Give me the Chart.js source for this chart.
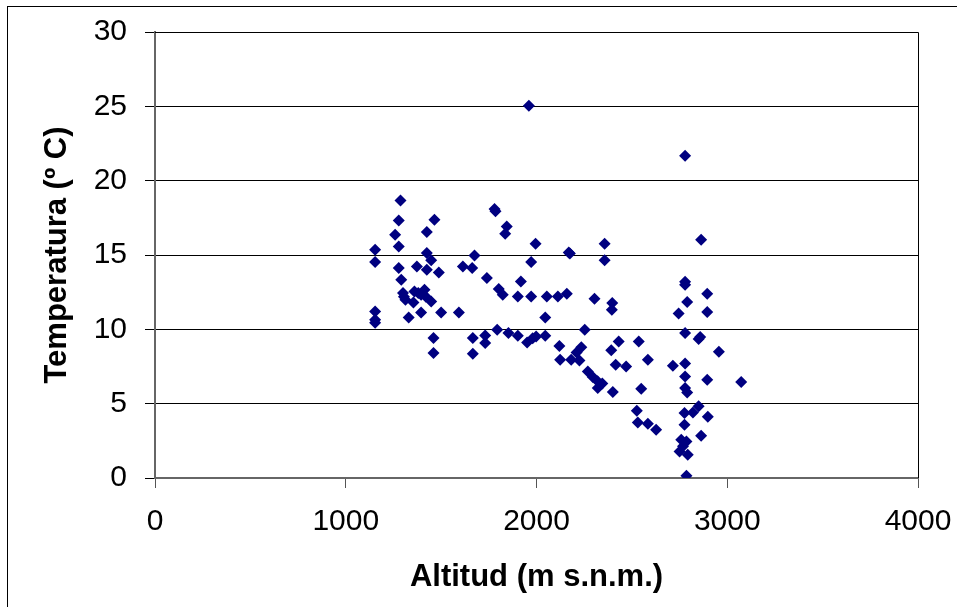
<!DOCTYPE html>
<html>
<head>
<meta charset="utf-8">
<script src="https://cdn.jsdelivr.net/npm/chart.js@4/dist/chart.umd.min.js"></script>
<style>
  html, body { margin: 0; padding: 0; background: #fff; }
  #wrap { position: relative; width: 957px; height: 607px; }
  #frame { position: absolute; left: 7px; top: 6px; width: 960px; height: 610px; border: 1px solid #000; box-sizing: border-box; pointer-events: none; }
</style>
</head>
<body>
<div id="wrap">
  <canvas id="chart" width="957" height="607"></canvas>
  <div id="frame"></div>
</div>
<script>
// altitude (m a.s.l.) and temperature (ºC)
const altitud = [
  1154, 1154, 1154, 1154, 1154,
  1287, 1278, 1259, 1278, 1278, 1291, 1300, 1313, 1330, 1305,
  1465, 1425, 1425, 1448, 1373, 1425, 1488, 1360, 1413, 1395, 1355, 1448, 1395, 1500, 1460, 1460, 1380, 1420,
  1593, 1614, 1675, 1663, 1740, 1666, 1666, 1731, 1731,
  1780, 1785, 1844, 1836, 1995, 1972, 1802, 1823, 1918, 1902, 1972, 1960, 1794, 1853, 1902, 1951, 1998, 1980,
  2046, 2054, 2112, 2159, 2169, 2175, 2046, 2120, 2124, 2182, 2210, 2225, 2235, 2253, 2304,
  2269, 2295, 2320, 2345, 2321, 2400, 2357, 2357, 2397, 2395, 2392, 2431, 2415, 2470,
  2536, 2549, 2584, 2526, 2531, 2584, 2627,
  2715, 2745, 2779, 2863, 2779, 2779, 2790, 2895, 2895, 2779, 2858, 2850, 2956, 2779, 2779, 2895, 3073,
  2779, 2790, 2850, 2820, 2776, 2898, 2776, 2863, 2759, 2786, 2768, 2750, 2793, 2786
];
const temperatura = [
  15.35, 14.53, 11.2, 10.65, 10.45,
  18.67, 17.32, 16.36, 15.57, 14.12, 13.34, 12.44, 11.99, 10.8, 12.2,
  17.37, 16.54, 15.13, 14.64, 14.23, 14.0, 13.83, 12.55, 12.66, 12.33, 11.81, 11.88, 11.14, 11.14, 9.41, 8.41, 12.45, 12.2,
  11.14, 14.23, 14.97, 14.12, 13.45, 9.41, 8.36, 9.59, 9.08,
  18.09, 17.95, 16.92, 16.43, 15.76, 14.53, 12.71, 12.33, 13.22, 12.21, 12.21, 25.04, 9.97, 9.75, 9.57, 9.12, 9.52, 9.4,
  10.8, 12.21, 12.21, 12.39, 15.17, 15.1, 9.57, 8.88, 7.96, 7.96, 8.45, 7.9, 8.8, 9.97, 12.06,
  7.17, 6.8, 6.5, 6.35, 6.05, 5.78, 15.76, 14.64, 11.77, 11.32, 8.6, 9.19, 7.62, 7.5,
  9.19, 6.0, 7.96, 4.53, 3.74, 3.65, 3.25,
  7.55, 11.07, 21.67, 16.03, 13.2, 13.0, 11.84, 12.39, 11.16, 9.75, 9.48, 9.35, 8.5, 7.7, 6.83, 6.61, 6.46,
  6.05, 5.75, 4.82, 4.4, 4.37, 4.12, 3.58, 2.84, 2.58, 2.46, 2.13, 1.79, 1.57, 0.15
];
const xTicks = [0, 1000, 2000, 3000, 4000];
const yTicks = [0, 5, 10, 15, 20, 25, 30];

const puntos = altitud.map((a, i) => ({ x: a, y: temperatura[i] }));

// plot area frame (top and right edges)
const framePlugin = {
  id: 'plotFrame',
  afterDraw(chart) {
    const { ctx, chartArea: a } = chart;
    ctx.save();
    ctx.strokeStyle = '#000';
    ctx.lineWidth = 1;
    ctx.beginPath();
    ctx.moveTo(a.left, a.top + 0.5);
    ctx.lineTo(a.right + 0.5, a.top + 0.5);
    ctx.lineTo(a.right + 0.5, a.bottom);
    ctx.stroke();
    ctx.restore();
  }
};

const family = 'Liberation Sans, Arial, sans-serif';
const tickFont = { family: family, size: 30 };
const titleFont = { family: family, size: 31, weight: 'bold' };

new Chart(document.getElementById('chart').getContext('2d'), {
  type: 'scatter',
  data: {
    datasets: [{
      data: puntos,
      pointStyle: 'rectRot',
      pointRadius: 6,
      backgroundColor: '#000080',
      borderColor: '#000080',
      borderWidth: 0
    }]
  },
  options: {
    responsive: false,
    animation: false,
    layout: { padding: { left: 0, top: 32, right: 39, bottom: 0 } },
    plugins: { legend: { display: false }, tooltip: { enabled: false } },
    scales: {
      x: {
        type: 'linear',
        min: 0,
        max: 4000,
        afterBuildTicks: s => { s.ticks = xTicks.map(v => ({ value: v })); },
        afterFit: s => { s.height = 129; s.paddingLeft = 0; s.paddingRight = 0; },
        grid: { drawOnChartArea: false, color: '#555', tickLength: 10 },
        border: { color: '#666', width: 2 },
        ticks: { color: '#000', font: tickFont, padding: 16, maxRotation: 0, callback: v => String(v) },
        title: { display: true, text: 'Altitud (m s.n.m.)', color: '#000', font: titleFont, padding: { top: 0, bottom: 11 } }
      },
      y: {
        min: 0,
        max: 30,
        afterBuildTicks: s => { s.ticks = yTicks.map(v => ({ value: v })); },
        afterFit: s => { s.width = 155; s.paddingTop = 0; s.paddingBottom = 0; },
        grid: { color: '#000', tickLength: 10 },
        border: { color: '#666', width: 2 },
        ticks: { color: '#000', font: tickFont, padding: 18 },
        title: { display: true, text: 'Temperatura (º C)', color: '#000', font: titleFont, padding: { top: 39, bottom: 0 } }
      }
    }
  },
  plugins: [framePlugin]
});
</script>
</body>
</html>
